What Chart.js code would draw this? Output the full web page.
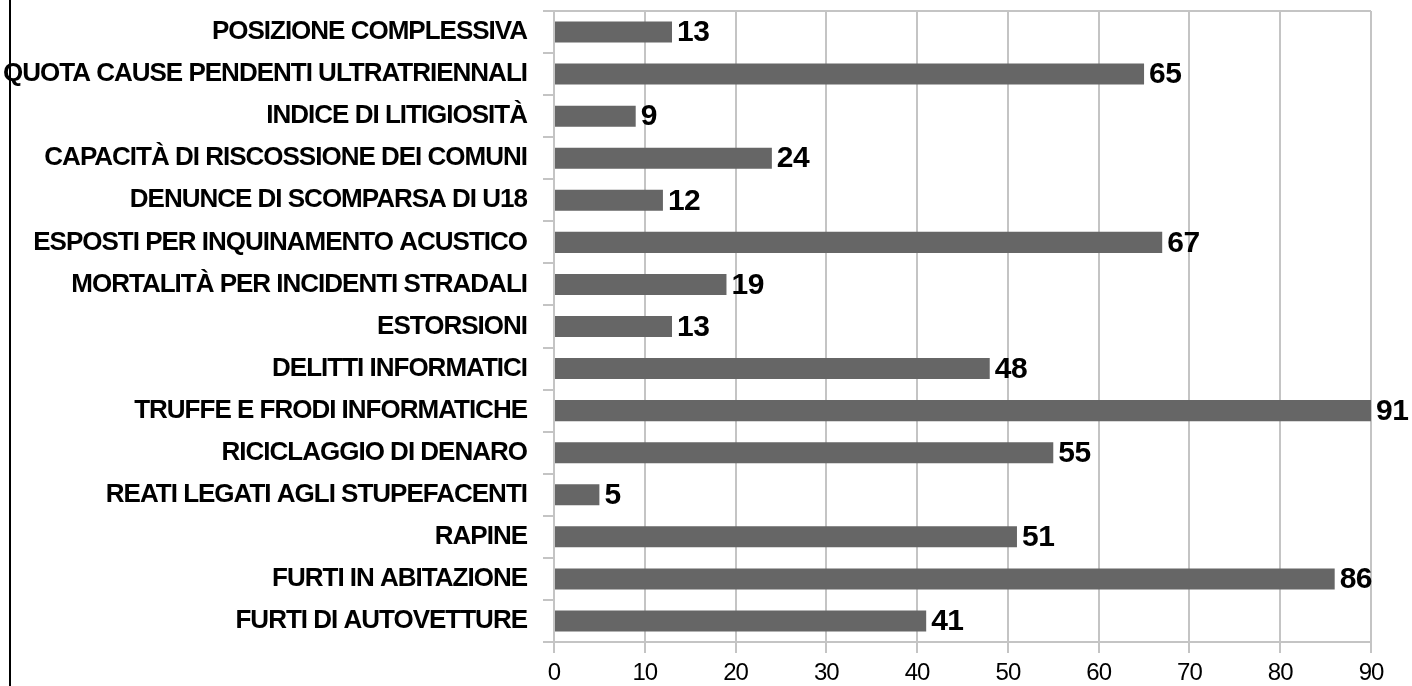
<!DOCTYPE html>
<html>
<head>
<meta charset="utf-8">
<script src="https://cdn.jsdelivr.net/npm/chart.js@4.4.1/dist/chart.umd.min.js"></script>
<style>
  html, body { margin: 0; padding: 0; background: #fff; }
  #wrap { position: relative; width: 1412px; height: 686px; overflow: hidden; }
  #edge { position: absolute; left: 9px; top: 0; width: 2px; height: 686px; background: #000; }
</style>
</head>
<body>
<div id="wrap">
  <canvas id="chart" width="1412" height="686"></canvas>
  <div id="edge"></div>
</div>
<script>
// categories, top to bottom
const categories = [
    'POSIZIONE COMPLESSIVA',
    'QUOTA CAUSE PENDENTI ULTRATRIENNALI',
    'INDICE DI LITIGIOSITÀ',
    'CAPACITÀ DI RISCOSSIONE DEI COMUNI',
    'DENUNCE DI SCOMPARSA DI U18',
    'ESPOSTI PER INQUINAMENTO ACUSTICO',
    'MORTALITÀ PER INCIDENTI STRADALI',
    'ESTORSIONI',
    'DELITTI INFORMATICI',
    'TRUFFE E FRODI INFORMATICHE',
    'RICICLAGGIO DI DENARO',
    'REATI LEGATI AGLI STUPEFACENTI',
    'RAPINE',
    'FURTI IN ABITAZIONE',
    'FURTI DI AUTOVETTURE'
];
const values = [13, 65, 9, 24, 12, 67, 19, 13, 48, 91, 55, 5, 51, 86, 41];
const axisMin = 0;
const axisMax = 90;
const axisStep = 10;

const FONT = "'Liberation Sans', Arial, sans-serif";

// the original labels are a tight, condensed-looking bold; squeeze the letters a bit
const tightText = {
    id: 'tightText',
    beforeLayout(chart) { chart.ctx.letterSpacing = '-1px'; },
    beforeDraw(chart) { chart.ctx.letterSpacing = '-1px'; }
};

// value labels to the right of each bar
const valueLabels = {
    id: 'valueLabels',
    afterDatasetsDraw(chart) {
        const ctx = chart.ctx;
        const meta = chart.getDatasetMeta(0);
        ctx.save();
        ctx.letterSpacing = '-0.5px';
        ctx.font = 'bold 30px ' + FONT;
        ctx.fillStyle = '#000';
        ctx.textAlign = 'left';
        ctx.textBaseline = 'middle';
        meta.data.forEach((bar, i) => {
            const x = Math.min(bar.x, chart.chartArea.right);
            ctx.fillText(String(values[i]), x + 5, bar.y + 1);
        });
        ctx.restore();
    }
};

new Chart(document.getElementById('chart'), {
    type: 'bar',
    data: {
        labels: categories,
        datasets: [{
            data: values,
            backgroundColor: '#666666',
            borderWidth: 0,
            barPercentage: 0.5,
            categoryPercentage: 1.0
        }]
    },
    options: {
        indexAxis: 'y',
        responsive: false,
        animation: false,
        layout: { padding: { left: 0, top: 11, right: 41, bottom: 0 } },
        plugins: {
            legend: { display: false },
            tooltip: { enabled: false }
        },
        scales: {
            x: {
                min: axisMin,
                max: axisMax,
                ticks: {
                    stepSize: axisStep,
                    color: '#000',
                    font: { family: FONT, size: 24 },
                    padding: 6,
                    maxRotation: 0
                },
                grid: {
                    color: '#c4c4c4',
                    lineWidth: 2,
                    tickLength: 11,
                    tickColor: '#c4c4c4'
                },
                border: { color: '#c4c4c4', width: 2 },
                afterFit(s) { s.height = 44; s.paddingLeft = 0; s.paddingRight = 0; }
            },
            y: {
                ticks: {
                    color: '#000',
                    font: { family: FONT, size: 26, weight: 'bold' },
                    padding: 16,
                    autoSkip: false
                },
                grid: {
                    offset: true,
                    lineWidth: 2,
                    tickLength: 11,
                    tickColor: '#c4c4c4',
                    color: (c) => (c.index === 0 ? '#c4c4c4' : 'rgba(0,0,0,0)')
                },
                border: { color: '#c4c4c4', width: 2 },
                afterFit(s) { s.width = 554; s.paddingTop = 0; s.paddingBottom = 0; }
            }
        }
    },
    plugins: [tightText, valueLabels]
});
</script>
</body>
</html>
